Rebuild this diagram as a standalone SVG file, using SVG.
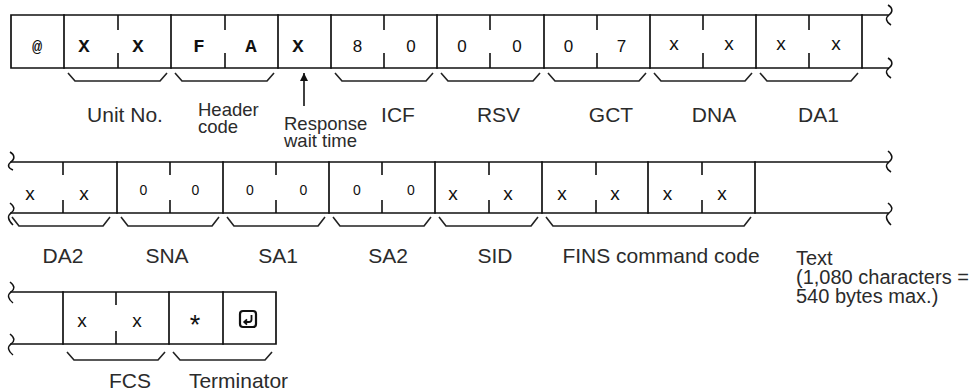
<svg xmlns="http://www.w3.org/2000/svg" width="979" height="392" viewBox="0 0 979 392">
<style>
  .ln{stroke:#111;stroke-width:1.7;fill:none;stroke-linecap:square}
  .tk{stroke:#111;stroke-width:1.6;fill:none}
  .br{stroke:#222;stroke-width:1.6;fill:none;stroke-linejoin:round}
  .brk{stroke:#111;stroke-width:1.5;fill:none}
  .m{font-family:"Liberation Mono","DejaVu Sans Mono",monospace;font-weight:bold;font-size:19px;fill:#111;text-anchor:middle}
  .d{font-family:"Liberation Sans",Arial,sans-serif;font-size:17px;fill:#111;text-anchor:middle}
  .ds{font-family:"Liberation Sans",Arial,sans-serif;font-size:14px;fill:#111;text-anchor:middle}
  .x{font-family:"Liberation Sans",Arial,sans-serif;font-size:19px;fill:#111;text-anchor:middle}
  .lb{font-family:"Liberation Sans",Arial,sans-serif;font-size:21px;fill:#2b2b2b;text-anchor:middle}
  .ls{font-family:"Liberation Sans",Arial,sans-serif;font-size:18.5px;fill:#2b2b2b}
  .lt{font-family:"Liberation Sans",Arial,sans-serif;font-size:20px;fill:#2b2b2b}
</style>
<defs>
  <marker id="ah" markerWidth="10" markerHeight="10" refX="8" refY="4" orient="auto" markerUnits="userSpaceOnUse">
    <path d="M0,0 L8,4 L0,8 Z" fill="#111"/>
  </marker>
</defs>

<!-- row frames -->
<g id="frame">
  <path class="ln" d="M11,15 H888 M11,68 H888 M11,15 V68"/>
  <path class="brk" d="M888,5 C893,8 893,12 889,15 C885,18 886,22 891,25"/>
  <path class="brk" d="M888,58 C893,61 893,65 889,68 C885,71 886,75 891,78"/>
  <path class="ln" d="M11,162 H888 M11,213 H888"/>
  <path class="brk" d="M888,151 C893,155 893,159 889,162 C885,165 886,169 891,172"/>
  <path class="brk" d="M888,203 C893,207 893,210 889,213 C885,216 886,220 891,225"/>
  <path class="brk" d="M10,152 C15,155 15,159 11,162 C7,165 8,168 13,170"/>
  <path class="brk" d="M10,203 C15,207 15,210 11,213 C7,216 8,220 13,225"/>
  <path class="ln" d="M11,292 H276 M11,344 H276 M276,292 V344"/>
  <path class="brk" d="M10,282 C15,286 15,289 11,292 C7,295 8,299 13,303"/>
  <path class="brk" d="M10,334 C15,338 15,341 11,344 C7,347 8,351 13,355"/>
</g>

<!-- top row fields -->
<g id="at">
  <path class="ln" d="M64,15 V68"/>
  <text class="m" x="37" y="52" style="font-size:17px">@</text>
</g>
<g id="unit-no">
  <path class="tk" d="M118,15 V30 M118,53 V68"/>
  <path class="ln" d="M171,15 V68"/>
  <text class="m" x="84" y="52">X</text>
  <text class="m" x="138" y="52">X</text>
  <path class="br" d="M68,73 L75,81 H160 L167,73"/>
  <text class="lb" x="125" y="122">Unit No.</text>
</g>
<g id="header-code">
  <path class="tk" d="M225,15 V30 M225,53 V68"/>
  <path class="ln" d="M278,15 V68"/>
  <text class="m" x="199" y="52">F</text>
  <text class="m" x="251" y="52">A</text>
  <path class="br" d="M175,73 L182,81 H267 L274,73"/>
  <text class="ls" x="198" y="115.5">Header</text>
  <text class="ls" x="198" y="132.5">code</text>
</g>
<g id="response-wait-time">
  <path class="ln" d="M331,15 V68"/>
  <text class="m" x="298" y="52">X</text>
  <text class="ls" x="284" y="130">Response</text>
  <text class="ls" x="284" y="147">wait time</text>
</g>
<g id="icf">
  <path class="tk" d="M384,15 V30 M384,53 V68"/>
  <path class="ln" d="M437,15 V68"/>
  <text class="d" x="357.5" y="52">8</text>
  <text class="d" x="411" y="52">0</text>
  <path class="br" d="M335,73 L342,81 H426 L433,73"/>
  <text class="lb" x="398" y="122">ICF</text>
</g>
<g id="rsv">
  <path class="tk" d="M490,15 V30 M490,53 V68"/>
  <path class="ln" d="M544,15 V68"/>
  <text class="d" x="462" y="52">0</text>
  <text class="d" x="517" y="52">0</text>
  <path class="br" d="M441,73 L448,81 H533 L540,73"/>
  <text class="lb" x="498.5" y="122">RSV</text>
</g>
<g id="gct">
  <path class="tk" d="M597,15 V30 M597,53 V68"/>
  <path class="ln" d="M650,15 V68"/>
  <text class="d" x="568.5" y="52">0</text>
  <text class="d" x="621.5" y="52">7</text>
  <path class="br" d="M548,73 L555,81 H639 L646,73"/>
  <text class="lb" x="611" y="122">GCT</text>
</g>
<g id="dna">
  <path class="tk" d="M703,15 V30 M703,53 V68"/>
  <path class="ln" d="M756,15 V68"/>
  <text class="x" x="674" y="50">x</text>
  <text class="x" x="729" y="50">x</text>
  <path class="br" d="M654,73 L661,81 H745 L752,73"/>
  <text class="lb" x="714" y="122">DNA</text>
</g>
<g id="da1">
  <path class="tk" d="M809,15 V30 M809,53 V68"/>
  <path class="ln" d="M862,15 V68"/>
  <text class="x" x="781" y="50">x</text>
  <text class="x" x="836" y="50">x</text>
  <path class="br" d="M760,73 L767,81 H851 L858,73"/>
  <text class="lb" x="818.5" y="122">DA1</text>
</g>

<!-- middle row fields -->
<g id="da2">
  <path class="tk" d="M63,162 V175 M63,200 V213"/>
  <path class="ln" d="M117,162 V213"/>
  <text class="x" x="30" y="200">x</text>
  <text class="x" x="84" y="200">x</text>
  <path class="br" d="M12,217 L19,226 H103 L110,217"/>
  <text class="lb" x="63" y="263">DA2</text>
</g>
<g id="sna">
  <path class="tk" d="M170,162 V175 M170,200 V213"/>
  <path class="ln" d="M223,162 V213"/>
  <text class="ds" x="143.5" y="195">0</text>
  <text class="ds" x="195.5" y="195">0</text>
  <path class="br" d="M121,217 L128,226 H212 L219,217"/>
  <text class="lb" x="167" y="263">SNA</text>
</g>
<g id="sa1">
  <path class="tk" d="M276,162 V175 M276,200 V213"/>
  <path class="ln" d="M329,162 V213"/>
  <text class="ds" x="250" y="195">0</text>
  <text class="ds" x="303.5" y="195">0</text>
  <path class="br" d="M227,217 L234,226 H318 L325,217"/>
  <text class="lb" x="278" y="263">SA1</text>
</g>
<g id="sa2">
  <path class="tk" d="M382,162 V175 M382,200 V213"/>
  <path class="ln" d="M435,162 V213"/>
  <text class="ds" x="357" y="195">0</text>
  <text class="ds" x="411" y="195">0</text>
  <path class="br" d="M333,217 L340,226 H424 L431,217"/>
  <text class="lb" x="388" y="263">SA2</text>
</g>
<g id="sid">
  <path class="tk" d="M489,162 V175 M489,200 V213"/>
  <path class="ln" d="M542,162 V213"/>
  <text class="x" x="453" y="200">x</text>
  <text class="x" x="508" y="200">x</text>
  <path class="br" d="M439,217 L446,226 H531 L538,217"/>
  <text class="lb" x="495" y="263">SID</text>
</g>
<g id="fins-command-code">
  <path class="tk" d="M596,162 V175 M596,200 V213 M702,162 V175 M702,200 V213"/>
  <path class="ln" d="M648,162 V213 M755,162 V213"/>
  <text class="x" x="562" y="200">x</text>
  <text class="x" x="615" y="200">x</text>
  <text class="x" x="667.5" y="200">x</text>
  <text class="x" x="722" y="200">x</text>
  <path class="br" d="M546,217 L553,226 H744 L751,217"/>
  <text class="lb" x="661" y="263">FINS command code</text>
</g>
<g id="text-field">
  <text class="lt" x="796" y="265">Text</text>
  <text class="lt" x="796" y="284">(1,080 characters =</text>
  <text class="lt" x="796" y="303">540 bytes max.)</text>
</g>

<!-- bottom row fields -->
<g id="fcs">
  <path class="ln" d="M63,292 V344"/>
  <path class="tk" d="M116,292 V305 M116,331 V344"/>
  <path class="ln" d="M169,292 V344"/>
  <text class="x" x="82" y="327">x</text>
  <text class="x" x="137" y="327">x</text>
  <path class="br" d="M67,352 L74,360 H158 L165,352"/>
  <text class="lb" x="130" y="388">FCS</text>
</g>
<g id="terminator">
  <path class="ln" d="M223,292 V344"/>
  <text class="x" x="195" y="334" style="font-size:27px">*</text>
  <rect x="240" y="311" width="16" height="16" rx="3" fill="none" stroke="#111" stroke-width="2.2"/>
  <path d="M251.5,315 V319.5 Q251.5,322 249,322 H244.5" fill="none" stroke="#111" stroke-width="1.8"/>
  <path d="M247,319.3 L244.2,322 L247,324.7" fill="none" stroke="#111" stroke-width="1.8"/>
  <path class="br" d="M173,352 L180,360 H265 L272,352"/>
  <text class="lb" x="238.5" y="388">Terminator</text>
</g>

<!-- connectors -->
<g id="connectors">
  <line x1="304" y1="106" x2="304" y2="73" stroke="#111" stroke-width="1.6" marker-end="url(#ah)"/>
</g>
</svg>
